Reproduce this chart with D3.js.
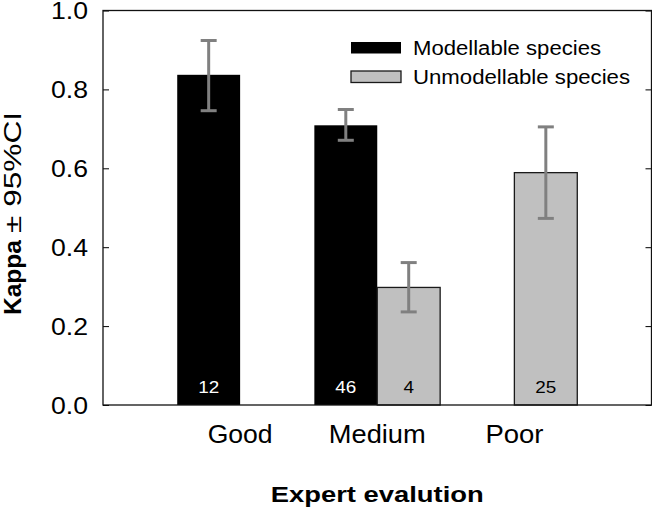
<!DOCTYPE html>
<html>
<head>
<meta charset="utf-8">
<script src="https://cdn.jsdelivr.net/npm/d3@7"></script>
<style>
  body { margin: 0; background: #fff; }
  text { font-family: Arial, "Liberation Sans", sans-serif; }
</style>
</head>
<body>
<div id="chart"></div>
<script>
const width = 652;
const height = 510;

// data
const categories = ["Good", "Medium", "Poor"];
const seriesNames = ["Modellable species", "Unmodellable species"];
const modellable = [0.837, 0.709, null];
const modellableLo = [0.746, 0.671, null];
const modellableHi = [0.924, 0.749, null];
const modellableN = [12, 46, null];
const unmodellable = [null, 0.298, 0.589];
const unmodellableLo = [null, 0.236, 0.473];
const unmodellableHi = [null, 0.361, 0.705];
const unmodellableN = [null, 4, 25];
const yTicks = [0, 0.2, 0.4, 0.6, 0.8, 1.0];

const plot = { left: 103, right: 651.5, top: 10.5, bottom: 405 };

const svg = d3
  .select("#chart")
  .append("svg")
  .attr("width", width)
  .attr("height", height);

//-------scales-------//
const x0 = d3
  .scaleBand()
  .domain(categories)
  .range([plot.left, plot.right])
  .paddingInner(0)
  .paddingOuter(0.5);

const x1 = d3
  .scaleBand()
  .domain(seriesNames)
  .range([0, x0.bandwidth()])
  .paddingInner(0)
  .paddingOuter(0.09);

const y = d3.scaleLinear().domain([0, 1]).range([plot.bottom, plot.top]);

const fill = d3.scaleOrdinal().domain(seriesNames).range(["#000000", "#c0c0c0"]);
const countColor = d3.scaleOrdinal().domain(seriesNames).range(["#ffffff", "#000000"]);

//-------build rows-------//
const rows = [];
categories.forEach((c, i) => {
  if (modellable[i] != null)
    rows.push({ cat: c, s: seriesNames[0], v: modellable[i], lo: modellableLo[i], hi: modellableHi[i], n: modellableN[i] });
  if (unmodellable[i] != null)
    rows.push({ cat: c, s: seriesNames[1], v: unmodellable[i], lo: unmodellableLo[i], hi: unmodellableHi[i], n: unmodellableN[i] });
});

//-------bars-------//
svg
  .append("g")
  .selectAll("rect")
  .data(rows)
  .join("rect")
  .attr("x", (d) => x0(d.cat) + x1(d.s))
  .attr("y", (d) => y(d.v))
  .attr("width", x1.bandwidth())
  .attr("height", (d) => y(0) - y(d.v))
  .attr("fill", (d) => fill(d.s))
  .attr("stroke", (d) => (d.s === seriesNames[1] ? "#1a1a1a" : "none"))
  .attr("stroke-width", 1.3);

//-------error bars-------//
const err = svg.append("g").attr("stroke", "#808080").attr("stroke-width", 3);
const cx = (d) => x0(d.cat) + x1(d.s) + x1.bandwidth() / 2;
err
  .selectAll("line.v")
  .data(rows)
  .join("line")
  .attr("class", "v")
  .attr("x1", cx)
  .attr("x2", cx)
  .attr("y1", (d) => y(d.lo))
  .attr("y2", (d) => y(d.hi));
err
  .selectAll("line.cap")
  .data(rows.flatMap((d) => [{ d, val: d.lo }, { d, val: d.hi }]))
  .join("line")
  .attr("class", "cap")
  .attr("x1", (e) => cx(e.d) - 8)
  .attr("x2", (e) => cx(e.d) + 8)
  .attr("y1", (e) => y(e.val))
  .attr("y2", (e) => y(e.val));

//-------counts-------//
svg
  .append("g")
  .selectAll("text")
  .data(rows)
  .join("text")
  .attr("x", cx)
  .attr("y", 393)
  .attr("text-anchor", "middle")
  .attr("font-size", 16)
  .attr("fill", (d) => countColor(d.s))
  .attr("textLength", (d) => String(d.n).length * 10.5)
  .attr("lengthAdjust", "spacingAndGlyphs")
  .text((d) => d.n);

//-------axes-------//
const axisLeft = svg
  .append("g")
  .attr("transform", `translate(${plot.left},0)`)
  .call(d3.axisRight(y).tickValues(yTicks).tickSize(6).tickFormat(""));
axisLeft.select(".domain").remove();

const axisRight = svg
  .append("g")
  .attr("transform", `translate(${plot.right},0)`)
  .call(d3.axisLeft(y).tickValues(yTicks).tickSize(6).tickFormat(""));
axisRight.select(".domain").remove();

svg
  .append("rect")
  .attr("x", plot.left)
  .attr("y", plot.top)
  .attr("width", plot.right - plot.left)
  .attr("height", plot.bottom - plot.top)
  .attr("fill", "none")
  .attr("stroke", "#111")
  .attr("stroke-width", 1.3);

// tick labels
svg
  .append("g")
  .selectAll("text")
  .data(yTicks)
  .join("text")
  .attr("x", 88)
  .attr("y", (d) => y(d) + 8.5)
  .attr("text-anchor", "end")
  .attr("font-size", 23)
  .attr("textLength", 37)
  .attr("lengthAdjust", "spacingAndGlyphs")
  .text((d) => d.toFixed(1));

// category labels
const catWidths = [65, 97, 58];
svg
  .append("g")
  .selectAll("text")
  .data(categories)
  .join("text")
  .attr("x", (d) => x0(d) + x0.bandwidth() / 2)
  .attr("y", 443)
  .attr("text-anchor", "middle")
  .attr("font-size", 25)
  .attr("textLength", (d, i) => catWidths[i])
  .attr("lengthAdjust", "spacingAndGlyphs")
  .text((d) => d);

// axis titles
svg
  .append("text")
  .attr("x", (plot.left + plot.right) / 2)
  .attr("y", 502)
  .attr("text-anchor", "middle")
  .attr("font-size", 22)
  .attr("font-weight", "bold")
  .attr("textLength", 213)
  .attr("lengthAdjust", "spacingAndGlyphs")
  .text("Expert evalution");

const yTitle = svg.append("g").attr("transform", "translate(21,315) rotate(-90)");
yTitle
  .append("text")
  .attr("x", 0)
  .attr("font-size", 24)
  .attr("font-weight", "bold")
  .attr("textLength", 75)
  .attr("lengthAdjust", "spacingAndGlyphs")
  .text("Kappa");
yTitle
  .append("text")
  .attr("x", 82)
  .attr("font-size", 24)
  .attr("textLength", 121)
  .attr("lengthAdjust", "spacingAndGlyphs")
  .text("\u00b1 95%CI");

//-------legend-------//
const legendW = [188, 217];
const legend = svg
  .append("g")
  .selectAll("g")
  .data(seriesNames)
  .join("g")
  .attr("transform", (d, i) => `translate(351,${42 + i * 29})`);
legend
  .append("rect")
  .attr("width", 50)
  .attr("height", 11.5)
  .attr("fill", (d) => fill(d))
  .attr("stroke", (d, i) => (i === 1 ? "#1a1a1a" : "none"))
  .attr("stroke-width", 1.3);
legend
  .append("text")
  .attr("x", 62)
  .attr("y", 13)
  .attr("font-size", 20)
  .attr("textLength", (d, i) => legendW[i])
  .attr("lengthAdjust", "spacingAndGlyphs")
  .text((d) => d);
</script>
</body>
</html>
